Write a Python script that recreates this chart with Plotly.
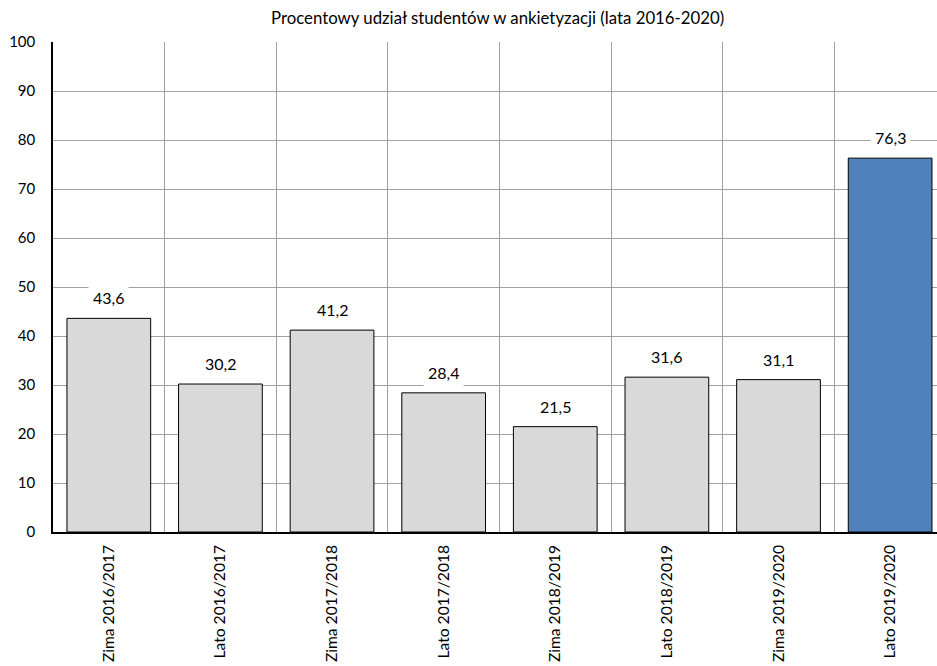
import plotly.graph_objects as go

categories = ["Zima 2016/2017", "Lato 2016/2017", "Zima 2017/2018", "Lato 2017/2018",
              "Zima 2018/2019", "Lato 2018/2019", "Zima 2019/2020", "Lato 2019/2020"]
values = [43.6, 30.2, 41.2, 28.4, 21.5, 31.6, 31.1, 76.3]
labels = ["43,6", "30,2", "41,2", "28,4", "21,5", "31,6", "31,1", "76,3"]
colors = ["#d9d9d9"] * 7 + ["#4f81bd"]
y_ticks = [0, 10, 20, 30, 40, 50, 60, 70, 80, 90, 100]

FONT = "Lato"

fig = go.Figure()
fig.add_trace(go.Bar(
    x=categories, y=values,
    marker=dict(color=colors, line=dict(color="#000000", width=1)),
    width=0.75,
    hoverinfo="skip",
))

for c, v, t in zip(categories, values, labels):
    fig.add_annotation(x=c, y=v, text=t, showarrow=False, yanchor="bottom",
                       yshift=6, bgcolor="white", borderpad=4,
                       font=dict(family=FONT, size=16, color="#000"))

fig.update_layout(
    width=937, height=666,
    margin=dict(l=53, r=0, t=42, b=134, autoexpand=False),
    paper_bgcolor="white", plot_bgcolor="white",
    showlegend=False,
    title=dict(text="Procentowy udział studentów w ankietyzacji (lata 2016-2020)",
               x=0.503, xanchor="center", y=1 - 18 / 666, yanchor="middle",
               xref="paper",
               font=dict(family=FONT, size=16.8, color="#000")),
    font=dict(family=FONT, color="#000"),
)
fig.update_xaxes(
    type="category", range=[-0.5, 7.42], automargin=False,
    tickson="boundaries", showgrid=True, gridcolor="#a0a0a0", gridwidth=1,
    ticks="", tickangle=-90, tickfont=dict(family=FONT, size=15.6, color="#000"),
    ticklabelstandoff=5,
    showline=True, linecolor="#000", linewidth=1.5, mirror=False,
)
fig.update_yaxes(
    range=[0, 100], tickvals=y_ticks, ticktext=[str(v) for v in y_ticks],
    automargin=False,
    showgrid=True, gridcolor="#a0a0a0", gridwidth=1, zeroline=False,
    ticks="", tickfont=dict(family=FONT, size=15, color="#000"),
    ticklabelstandoff=13,
    showline=True, linecolor="#000", linewidth=1.5, mirror=True,
)

fig.write_html("out.html", config={"displayModeBar": False},
               post_script="document.body.style.margin='0';")
